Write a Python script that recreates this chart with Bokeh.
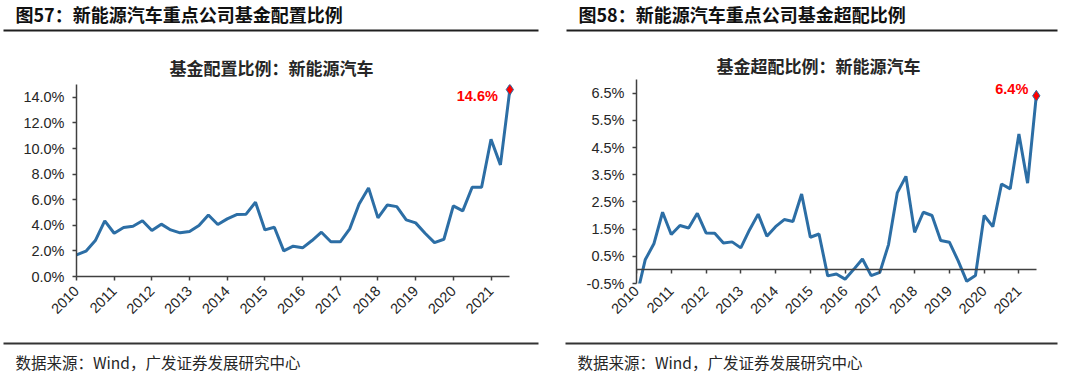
import math
from bokeh.plotting import figure
from bokeh.layouts import row, column
from bokeh.models import Range1d, FixedTicker, PrintfTickFormatter, ColumnDataSource, LinearAxis
from bokeh.core.properties import value
from bokeh.embed import file_html
from bokeh.resources import INLINE

# ---------------- data ----------------
start_year = 2010
years = [2010, 2011, 2012, 2013, 2014, 2015, 2016, 2017, 2018, 2019, 2020, 2021]

alloc_values = [1.69, 1.98, 2.81, 4.35, 3.38, 3.83, 3.93, 4.35, 3.59, 4.09, 3.64, 3.41,
                3.51, 3.98, 4.81, 4.06, 4.50, 4.84, 4.87, 5.80, 3.64, 3.85, 2.00, 2.37,
                2.24, 2.81, 3.46, 2.71, 2.71, 3.72, 5.67, 6.92, 4.58, 5.59, 5.46, 4.42,
                4.19, 3.38, 2.65, 2.91, 5.52, 5.13, 6.97, 6.97, 10.72, 8.72, 14.6]

over_values = [-1.00, 0.37, 0.96, 2.12, 1.30, 1.63, 1.54, 2.08, 1.36, 1.35, 0.99, 1.03,
               0.81, 1.47, 2.05, 1.24, 1.59, 1.85, 1.78, 2.79, 1.20, 1.32, -0.22, -0.15,
               -0.34, 0.02, 0.40, -0.21, -0.09, 0.93, 2.83, 3.44, 1.38, 2.12, 2.00, 1.08,
               1.02, 0.34, -0.42, -0.21, 2.00, 1.59, 3.16, 2.98, 5.00, 3.19, 6.4]

alloc_ticks = [0, 2, 4, 6, 8, 10, 12, 14]
over_ticks = [-0.5, 0.5, 1.5, 2.5, 3.5, 4.5, 5.5, 6.5]

header_left = "图57：新能源汽车重点公司基金配置比例"
header_right = "图58：新能源汽车重点公司基金超配比例"
title_left = "基金配置比例：新能源汽车"
title_right = "基金超配比例：新能源汽车"
source_text = "数据来源：Wind，广发证券发展研究中心"

LINE = "#2C6EA5"
TXT = "#262626"
RULE = "#1f1f1f"
AX = "#404040"
CJK = "Noto Sans CJK SC"
LAT = "Liberation Sans"


def xs_for(vals):
    return [start_year + i / 4 for i in range(len(vals))]


def deco_fig(w, h):
    p = figure(width=w, height=h, x_range=Range1d(0, w), y_range=Range1d(h, 0),
               min_border=0, toolbar_location=None, output_backend="svg",
               x_axis_location=None, y_axis_location=None, frame_align=False)
    p.grid.visible = False
    p.outline_line_color = None
    return p


def header(w, h, text, tx, rx0, rx1):
    p = deco_fig(w, h)
    p.text(x=[tx], y=[13.5], text=[text], text_font=value(CJK), text_font_style="bold",
           text_font_size="18px", text_baseline="middle", text_color="#111111")
    p.segment(x0=[rx0], y0=[30], x1=[rx1], y1=[30], line_color=RULE, line_width=2)
    return p


def footer(w, h, tx, rx0, rx1):
    p = deco_fig(w, h)
    p.segment(x0=[rx0], y0=[8], x1=[rx1], y1=[8], line_color="#333333", line_width=2)
    p.text(x=[tx], y=[26], text=[source_text], text_font=value(CJK),
           text_font_size="15.5px", text_baseline="middle", text_color=TXT)
    return p


def style_axis(ax):
    ax.axis_line_color = AX
    ax.axis_line_width = 1.5
    ax.major_tick_line_color = AX
    ax.major_tick_line_width = 1.5
    ax.major_tick_out = 4
    ax.major_tick_in = 0
    ax.minor_tick_line_color = None
    ax.major_label_text_font = LAT
    ax.major_label_text_font_size = "14.5px"
    ax.major_label_text_color = TXT


def chart(w, h, vals, yr, ticks, title, borders, title_off, title_standoff, lab_off):
    bl, br, bt, bb = borders
    xs = xs_for(vals)
    p = figure(width=w, height=h, x_range=Range1d(start_year, xs[-1] + 0.15),
               y_range=Range1d(*yr), toolbar_location=None, output_backend="svg",
               min_border_left=bl, min_border_right=br, min_border_top=bt,
               min_border_bottom=bb, frame_align=False)
    p.grid.visible = False
    p.outline_line_color = None
    p.title.text = title
    p.title.align = "left"
    p.title.offset = title_off
    p.title.text_font = CJK
    p.title.text_font_style = "bold"
    p.title.text_font_size = "17px"
    p.title.text_color = TXT
    p.title.standoff = title_standoff

    for ax in p.yaxis:
        style_axis(ax)
        ax.ticker = FixedTicker(ticks=ticks)
        ax.formatter = PrintfTickFormatter(format="%.1f%%")
        ax.major_label_standoff = 8

    for ax in p.xaxis:
        style_axis(ax)
        ax.ticker = FixedTicker(ticks=years)
        ax.formatter = PrintfTickFormatter(format="%d")
        ax.bounds = (start_year, xs[-1])
        ax.major_label_standoff = 8
        ax.major_label_orientation = math.pi / 4

    src = ColumnDataSource(dict(x=xs, y=vals))
    p.line("x", "y", source=src, line_color=LINE, line_width=3)
    last = ColumnDataSource(dict(x=[xs[-1]], y=[vals[-1]], t=["%.1f%%" % vals[-1]]))
    p.scatter("x", "y", source=last, marker="diamond", size=11, fill_color="#FF0000",
              line_color=LINE, line_width=1)
    p.text("x", "y", text="t", source=last, text_align="right", text_baseline="middle",
           x_offset=lab_off[0], y_offset=lab_off[1], text_font=value(LAT),
           text_font_style="bold", text_font_size="14.5px", text_color="#FF0000")
    return p


LW, RW = 552, 528
HH, CH, FH = 40, 295, 49

h1 = header(LW, HH, header_left, 15, 3, 538)
c1 = chart(LW, CH, alloc_values, (0, 15), alloc_ticks, title_left, (76, 37, 44, 59), 93, 9,
           (-12, 6))
f1 = footer(LW, FH, 15, 3, 538)

h2 = header(RW, HH, header_right, 26, 14, 505)
c2 = chart(RW, CH, over_values, (-0.5, 7.0), over_ticks, title_right, (84, 39, 39, 52), 80, 4,
           (-8, -7))
# labels stay below the frame; the axis line with its ticks sits at zero
bottom_axis = c2.xaxis[0]
bottom_axis.axis_line_color = None
bottom_axis.major_tick_line_color = None
bottom_axis.major_tick_out = 0
bottom_axis.major_label_standoff = 5
zero_axis = LinearAxis(ticker=FixedTicker(ticks=years), fixed_location=0,
                       bounds=(start_year, xs_for(over_values)[-1]))
style_axis(zero_axis)
zero_axis.major_label_text_color = None
c2.add_layout(zero_axis, "below")
f2 = footer(RW, FH, 25, 13, 505)

layout = row(column(h1, c1, f1), column(h2, c2, f2))

open("out.html", "w").write(file_html(layout, INLINE))
